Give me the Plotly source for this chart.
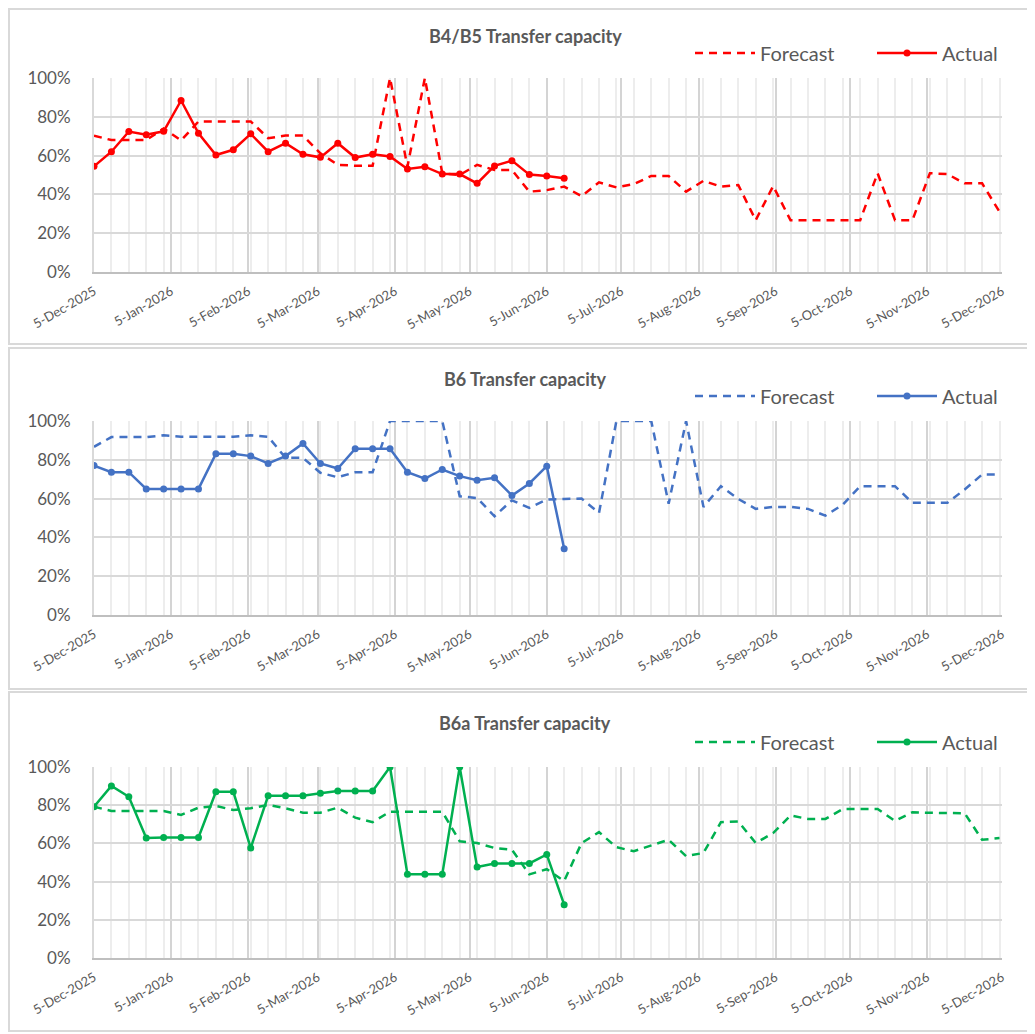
import pandas as pd
import plotly.graph_objects as go

# weekly dates, 5-Dec-2025 .. 4-Dec-2026
weeks = pd.date_range('2025-12-05', periods=53, freq='7D')
actual_weeks = weeks[:28]
month_ticks = list(pd.date_range('2025-12-01', '2026-12-01', freq='MS') + pd.Timedelta(days=4))

b45_forecast = [70.3, 68, 68, 68, 74, 67.8, 77.6, 77.6, 77.6, 77.6, 69, 70.3, 70.3, 61.2, 55.2,
                54.8, 54.8, 100, 54.3, 100, 50.9, 50, 55.2, 52.6, 52.6, 41.4, 42.2, 44, 39.1, 46.2,
                43.6, 45.3, 49.5, 49.5, 41.4, 47, 44, 44.8, 26.7, 44.3, 26.7, 26.7, 26.7, 26.7, 26.7,
                50.9, 26.7, 26.7, 50.9, 50.5, 45.7, 45.7, 31]
b45_actual = [54.5, 62, 72.4, 70.7, 72.5, 88.4, 71.5, 60.3, 63, 71.2, 62, 66.4, 60.7, 59.1, 66.4,
              59, 60.7, 59.5, 53.1, 54.3, 50.5, 50.5, 45.7, 54.7, 57.4, 50.2, 49.5, 48.3]

b6_forecast = [86.7, 91.7, 91.7, 91.7, 92.6, 91.9, 91.9, 91.9, 91.9, 92.6, 91.9, 81, 81, 73.3, 71,
               73.6, 73.6, 100, 100, 100, 100, 61.2, 60.3, 50.9, 59.1, 55.2, 59.5, 59.8, 60, 52.6,
               100, 100, 100, 57.4, 100, 55.7, 66.4, 59.8, 54.7, 55.7, 55.7, 54.7, 51.2, 56.9, 66.4,
               66.4, 66.4, 57.8, 57.8, 57.8, 64.7, 72.4, 72.4]
b6_actual = [77, 73.6, 73.6, 65, 65, 65, 65, 83.1, 83.1, 81.9, 78.1, 81.9, 88.4, 78.1, 75.5, 85.7,
             85.7, 85.7, 73.6, 70.3, 75, 71.6, 69.5, 70.7, 61.6, 67.8, 76.7, 34.1]

b6a_forecast = [79.2, 77, 77, 77, 77, 74.9, 78.7, 79.6, 77.5, 78.4, 80.1, 78.4, 76.1, 76.1, 78.7,
                73.5, 71.1, 76.6, 76.6, 76.6, 76.6, 61.1, 60.2, 57.6, 56.7, 43.8, 46.5, 40.3, 60.2,
                65.9, 58, 55.9, 59, 61.9, 53.3, 55, 71.1, 71.5, 60.2, 65.4, 74.6, 72.8, 72.8, 78, 78,
                78, 71.8, 76.3, 76, 75.8, 75.8, 61.9, 62.8]
b6a_actual = [79.2, 90.1, 84.4, 62.8, 63.1, 63.1, 63.1, 87, 87, 57.6, 84.9, 84.9, 84.9, 86.2, 87.4,
              87.4, 87.4, 100, 43.8, 43.8, 43.8, 100, 47.6, 49.5, 49.5, 49.5, 54.2, 27.9]

y_ticks = [0, 20, 40, 60, 80, 100]
y_labels = ['0%', '20%', '40%', '60%', '80%', '100%']

titles = ['B4/B5 Transfer capacity', 'B6 Transfer capacity', 'B6a Transfer capacity']
colors = ['#FF0000', '#4472C4', '#00B050']
forecasts = [b45_forecast, b6_forecast, b6a_forecast]
actuals = [b45_actual, b6_actual, b6a_actual]

W, H = 1035, 1034
OFF = 8  # page body margin
FONT = 'Lato'
GREY = '#595959'


def px(v):
    return max(v - OFF, 1) / W


def py(v):
    return 1 - max(v - OFF, 1) / H


# pixel positions of each panel (plot top, plot bottom, title y, legend y, box top, box bottom)
panels = [(78, 272, 36, 53, 4, 344), (421, 615, 379, 396, 348, 689), (767, 958, 723, 742, 692, 1031)]

fig = go.Figure()
layout = dict(width=W, height=H, margin=dict(l=0, r=0, t=0, b=0, autoexpand=False),
              paper_bgcolor='white', plot_bgcolor='white',
              font=dict(family=FONT, color=GREY), showlegend=True,
              annotations=[], shapes=[])

for i, (top, bottom, ty, ly, bt, bb) in enumerate(panels):
    sfx = '' if i == 0 else str(i + 1)
    leg = 'legend' + sfx
    fig.add_trace(go.Scatter(x=weeks, y=forecasts[i], name='Forecast', mode='lines',
                             line=dict(color=colors[i], width=2.5, dash='8px,6px'),
                             xaxis='x' + sfx, yaxis='y' + sfx, legend=leg))
    fig.add_trace(go.Scatter(x=actual_weeks, y=actuals[i], name='Actual', mode='lines+markers',
                             line=dict(color=colors[i], width=2.5),
                             marker=dict(color=colors[i], size=7),
                             xaxis='x' + sfx, yaxis='y' + sfx, legend=leg))
    layout['xaxis' + sfx] = dict(
        domain=[px(94), px(1002)], anchor='y' + sfx, automargin=False,
        range=['2025-12-05', '2026-12-05'],
        tickmode='array', tickvals=month_ticks, tickformat='%-d-%b-%Y',
        tickangle=-30, tickfont=dict(size=13, color=GREY), ticklabelstandoff=5,
        showgrid=True, gridcolor='#d4d4d4', gridwidth=2,
        minor=dict(tickmode='linear', tick0='2025-12-05', dtick=7 * 86400000,
                   showgrid=True, gridcolor='#ededed', gridwidth=1.5),
        showline=True, linecolor='#bfbfbf', linewidth=2, ticks='', zeroline=False)
    layout['yaxis' + sfx] = dict(
        domain=[py(bottom), py(top)], anchor='x' + sfx, automargin=False,
        range=[0, 100], tickmode='array', tickvals=y_ticks, ticktext=y_labels,
        tickfont=dict(size=17, color=GREY), ticklabelstandoff=18,
        showgrid=True, gridcolor='#d9d9d9', gridwidth=2,
        showline=True, linecolor='#d9d9d9', linewidth=2, ticks='', zeroline=False)
    layout[leg] = dict(orientation='h', x=px(690), xanchor='left', y=py(ly), yanchor='middle',
                       font=dict(size=20, color=GREY), bgcolor='rgba(0,0,0,0)',
                       itemwidth=60, entrywidth=107)
    layout['annotations'].append(dict(text='<b>' + titles[i] + '</b>', xref='paper', yref='paper',
                                      x=px(525), y=py(ty), xanchor='center', yanchor='middle',
                                      showarrow=False, font=dict(size=18, color=GREY, family=FONT)))
    layout['shapes'].append(dict(type='rect', xref='paper', yref='paper', x0=px(6), x1=1.02,
                                 y0=py(bb), y1=py(bt), line=dict(color='#d9d9d9', width=2),
                                 layer='below'))

fig.update_layout(**layout)
fig.write_html('out.html')
